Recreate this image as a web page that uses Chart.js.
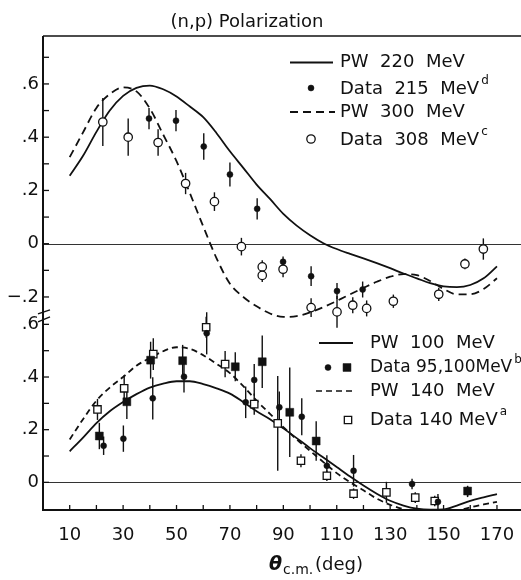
<!DOCTYPE html>
<html><head><meta charset="utf-8">
<script src="https://cdn.jsdelivr.net/npm/chart.js@4/dist/chart.umd.min.js"></script>
<style>
html,body{margin:0;padding:0;background:#fff;overflow:hidden;}
#wrap{position:relative;width:521px;height:580px;}
</style></head><body>
<div id="wrap"><canvas id="c" width="521" height="580"></canvas></div>
<script>
// ---------- data ----------
const xTickLabels = [10, 30, 50, 70, 90, 110, 130, 150, 170];
const xTickMarks = [10, 20, 30, 40, 50, 60, 70, 80, 90, 100, 110, 120, 130, 140, 150, 160, 170];
const yTopTickLabels = [0.6, 0.4, 0.2, 0, -0.2];
const yTopTickMarks = [0.7, 0.6, 0.5, 0.4, 0.3, 0.2, 0.1, 0, -0.1, -0.2];
const yBotTickLabels = [0.6, 0.4, 0.2, 0];
const yBotTickMarks = [0.6, 0.5, 0.4, 0.3, 0.2, 0.1, 0];

// phase-shift (PW) curves, read every 5 degrees
const pwAngles = [10,15,20,25,30,35,40,45,50,55,60,65,70,75,80,85,90,95,100,105,110,115,120,125,130,135,140,145,150,155,160,165,170];
const pw220 = [0.255,0.33,0.42,0.50,0.555,0.585,0.594,0.58,0.553,0.515,0.475,0.415,0.347,0.285,0.222,0.168,0.112,0.068,0.032,0.002,-0.02,-0.038,-0.055,-0.073,-0.092,-0.112,-0.13,-0.148,-0.16,-0.163,-0.155,-0.13,-0.085];
const pw300 = [0.325,0.418,0.51,0.562,0.587,0.572,0.508,0.41,0.31,0.19,0.065,-0.055,-0.15,-0.2,-0.235,-0.262,-0.275,-0.272,-0.258,-0.238,-0.215,-0.19,-0.166,-0.143,-0.124,-0.114,-0.118,-0.14,-0.17,-0.19,-0.19,-0.17,-0.13];
const pw100 = [0.118,0.17,0.225,0.27,0.305,0.335,0.36,0.375,0.384,0.384,0.373,0.357,0.337,0.305,0.27,0.24,0.205,0.168,0.13,0.094,0.058,0.022,-0.012,-0.043,-0.07,-0.088,-0.1,-0.104,-0.103,-0.088,-0.07,-0.057,-0.045];
const pw140 = [0.163,0.24,0.31,0.36,0.40,0.443,0.472,0.498,0.513,0.507,0.483,0.45,0.415,0.365,0.31,0.26,0.21,0.163,0.12,0.077,0.035,0.0,-0.03,-0.062,-0.085,-0.102,-0.115,-0.125,-0.128,-0.11,-0.095,-0.084,-0.074];

// measured data
const d215Ang = [39.7,49.8,60.2,70.0,80.2,89.9,100.4,110.1,119.7];
const d215Pol = [0.47,0.462,0.365,0.26,0.131,-0.068,-0.122,-0.178,-0.172];
const d215Err = [0.04,0.04,0.05,0.045,0.04,0.02,0.037,0.03,0.03];

const d308Ang = [22.4,31.9,43.1,53.4,64.2,74.3,82.1,82.1,89.9,100.4,110.1,116.0,121.2,131.2,148.2,158.0,164.9];
const d308Pol = [0.457,0.40,0.38,0.226,0.158,-0.011,-0.087,-0.119,-0.096,-0.24,-0.256,-0.231,-0.243,-0.216,-0.19,-0.076,-0.02];
const d308Err = [0.09,0.07,0.05,0.04,0.035,0.033,0.025,0.025,0.03,0.035,0.06,0.03,0.03,0.025,0.025,0.02,0.04];

const d95Ang = [22.7,30.1,41.1,52.8,61.3,75.9,79.1,88.5,96.9,106.3,116.3,138.2,147.9,159.0];
const d95Pol = [0.139,0.166,0.319,0.401,0.566,0.304,0.389,0.285,0.249,0.063,0.044,-0.006,-0.074,-0.036];
const d95Err = [0.035,0.05,0.08,0.06,0.08,0.06,0.06,0.06,0.07,0.04,0.06,0.02,0.03,0.02];

const d100Ang = [21.1,31.4,40.3,52.3,72.0,82.1,92.4,102.3,159.0];
const d100Pol = [0.176,0.306,0.464,0.462,0.439,0.458,0.266,0.157,-0.033];
const d100Err = [0.05,0.065,0.07,0.06,0.055,0.1,0.17,0.075,0.02];

const d140Ang = [20.4,30.4,41.3,61.1,68.2,79.1,87.9,96.6,106.3,116.3,128.6,139.4,146.7];
const d140Pol = [0.277,0.357,0.487,0.589,0.449,0.297,0.224,0.082,0.025,-0.043,-0.038,-0.058,-0.071];
const d140Err = [0.04,0.05,0.06,0.04,0.05,0.04,0.18,0.025,0.02,0.02,0.04,0.02,0.02];

// ---------- helpers ----------
const pairs = (xs, ys) => xs.map((x, i) => ({x: x, y: ys[i]}));
const INK = '#111';
const FONT = '"DejaVu Sans", sans-serif';
const fmtPol = v => {
  const r = Math.round(v * 10);
  if (r === 0) return '0';
  return (r < 0 ? '\u2212' : '') + '.' + Math.abs(r);
};

const curve = (label, ys, axis, dash) => ({
  label, data: pairs(pwAngles, ys), yAxisID: axis, showLine: true,
  borderColor: INK, borderWidth: 1.8, borderDash: dash, pointRadius: 0,
  cubicInterpolationMode: 'monotone', fill: false, order: 2
});
const points = (label, xs, ys, err, axis, style, r, filled) => ({
  label, data: pairs(xs, ys), err: err, yAxisID: axis, showLine: false,
  pointStyle: style, pointRadius: r, pointHoverRadius: r,
  backgroundColor: filled ? INK : '#fff', borderColor: INK,
  borderWidth: filled ? 0.5 : 1.3, order: 1
});

const datasets = [
  points('Data 215 MeV', d215Ang, d215Pol, d215Err, 'y', 'circle', 3, true),
  points('Data 308 MeV', d308Ang, d308Pol, d308Err, 'y', 'circle', 4.2, false),
  points('Data 95 MeV', d95Ang, d95Pol, d95Err, 'y2', 'circle', 3, true),
  points('Data 100 MeV', d100Ang, d100Pol, d100Err, 'y2', 'rect', 5.6, true),
  points('Data 140 MeV', d140Ang, d140Pol, d140Err, 'y2', 'rect', 5.2, false),
  curve('PW 220 MeV', pw220, 'y', []),
  curve('PW 300 MeV', pw300, 'y', [8, 5]),
  curve('PW 100 MeV', pw100, 'y2', []),
  curve('PW 140 MeV', pw140, 'y2', [6, 4])
];

function seg(ctx, x1, y1, x2, y2) { ctx.beginPath(); ctx.moveTo(x1, y1); ctx.lineTo(x2, y2); ctx.stroke(); }

function marker(ctx, ds, x, y) {
  ctx.save();
  ctx.fillStyle = ds.backgroundColor; ctx.strokeStyle = ds.borderColor; ctx.lineWidth = ds.borderWidth;
  if (Chart.helpers && Chart.helpers.drawPoint) {
    Chart.helpers.drawPoint(ctx, {pointStyle: ds.pointStyle, radius: ds.pointRadius, rotation: 0, borderWidth: ds.borderWidth}, x, y);
  } else {
    ctx.beginPath(); ctx.arc(x, y, ds.pointRadius, 0, Math.PI * 2); ctx.fill(); ctx.stroke();
  }
  ctx.restore();
}

function textSup(ctx, str, sup, x, y, size) {
  ctx.font = (size || 18) + 'px ' + FONT; ctx.textAlign = 'left'; ctx.textBaseline = 'middle';
  ctx.fillText(str, x, y);
  if (sup) {
    const w = ctx.measureText(str).width;
    ctx.font = '12px ' + FONT;
    ctx.fillText(sup, x + w + 2, y - 8);
  }
}

const deco = {
  id: 'deco',
  beforeDatasetsDraw(chart) {
    const {ctx, chartArea: a, scales} = chart;
    ctx.save();
    ctx.strokeStyle = '#333'; ctx.lineWidth = 1;
    [scales.y, scales.y2].forEach(s => {
      const py = Math.round(s.getPixelForValue(0)) + 0.5;
      seg(ctx, a.left, py, a.right, py);
    });
    ctx.strokeStyle = INK; ctx.lineWidth = 1.4;
    chart.data.datasets.forEach(ds => {
      if (!ds.err) return;
      const ys = scales[ds.yAxisID];
      ds.data.forEach((p, j) => {
        const px = scales.x.getPixelForValue(p.x);
        seg(ctx, px, ys.getPixelForValue(p.y - ds.err[j]), px, ys.getPixelForValue(p.y + ds.err[j]));
      });
    });
    ctx.restore();
  },
  afterDraw(chart) {
    const {ctx, chartArea: a, scales} = chart;
    const ds = chart.data.datasets;
    ctx.save();
    ctx.strokeStyle = INK; ctx.fillStyle = INK;
    // frame
    ctx.lineWidth = 2;
    seg(ctx, a.left, a.top, a.left, a.bottom);
    seg(ctx, a.left - 1, a.bottom, a.right, a.bottom);
    ctx.lineWidth = 1.5;
    seg(ctx, a.left, a.top, a.right, a.top);
    // inward tick marks
    ctx.lineWidth = 1.3;
    xTickMarks.forEach(v => { const px = scales.x.getPixelForValue(v); seg(ctx, px, a.bottom, px, a.bottom - 5); });
    yTopTickMarks.forEach(v => { const py = scales.y.getPixelForValue(v); seg(ctx, a.left, py, a.left + 6, py); });
    yBotTickMarks.forEach(v => { const py = scales.y2.getPixelForValue(v); seg(ctx, a.left, py, a.left + 6, py); });
    // bottom-panel tick labels
    ctx.font = '18px ' + FONT; ctx.textAlign = 'right'; ctx.textBaseline = 'middle';
    yBotTickLabels.forEach(v => ctx.fillText(fmtPol(v), a.left - 4, scales.y2.getPixelForValue(v)));
    // axis break marks
    ctx.lineWidth = 1.4;
    const by = scales.y.getPixelForValue(-0.26);
    seg(ctx, a.left - 5, by + 1, a.left + 7, by - 3);
    seg(ctx, a.left - 5, by + 9, a.left + 7, by + 4);
    // title
    ctx.textAlign = 'center'; ctx.textBaseline = 'middle'; ctx.font = '18px ' + FONT;
    ctx.fillText('(n,p) Polarization', 247, 22);
    // x axis title
    ctx.textAlign = 'left';
    ctx.font = 'italic bold 19px ' + FONT; ctx.fillText('\u03B8', 269, 565);
    ctx.font = '14px ' + FONT; ctx.fillText('c.m.', 283, 570);
    ctx.font = '18px ' + FONT; ctx.fillText('(deg)', 315, 565);
    // top legend
    ctx.lineWidth = 1.8;
    seg(ctx, 290, 62.5, 333, 62.5);
    textSup(ctx, 'PW  220  MeV', '', 340, 62);
    marker(ctx, ds[0], 311, 88);
    textSup(ctx, 'Data  215  MeV', 'd', 340, 89);
    ctx.setLineDash([8, 5]); ctx.lineWidth = 1.8; seg(ctx, 290, 112, 335, 112); ctx.setLineDash([]);
    textSup(ctx, 'PW  300  MeV', '', 340, 112);
    marker(ctx, ds[1], 311, 139);
    textSup(ctx, 'Data  308  MeV', 'c', 340, 140);
    // bottom legend
    ctx.lineWidth = 1.8;
    seg(ctx, 319, 343, 353, 343);
    textSup(ctx, 'PW  100  MeV', '', 370, 343);
    marker(ctx, ds[2], 328, 367.5);
    marker(ctx, ds[3], 347, 367.5);
    textSup(ctx, 'Data 95,100MeV', 'b', 370, 368, 17);
    ctx.setLineDash([6, 4]); ctx.lineWidth = 1.6; seg(ctx, 316, 391, 356, 391); ctx.setLineDash([]);
    textSup(ctx, 'PW  140  MeV', '', 370, 391);
    marker(ctx, ds[4], 348, 420);
    textSup(ctx, 'Data 140 MeV', 'a', 370, 420);
    ctx.restore();
  }
};

new Chart(document.getElementById('c'), {
  type: 'scatter',
  data: {datasets},
  options: {
    responsive: false, animation: false, devicePixelRatio: 1,
    layout: {autoPadding: false, padding: {top: 36, left: 0, right: 0, bottom: 0}},
    plugins: {legend: {display: false}, tooltip: {enabled: false}, title: {display: false}},
    events: [],
    scales: {
      x: {
        type: 'linear', min: 0, max: 179, position: 'bottom',
        afterBuildTicks: s => { s.ticks = xTickLabels.map(v => ({value: v})); },
        afterFit: s => { s.height = 70; s.paddingLeft = 0; s.paddingRight = 0; },
        grid: {display: false, drawTicks: false}, border: {display: false},
        ticks: {
          autoSkip: false, maxRotation: 0, minRotation: 0, padding: 15, color: INK,
          font: {family: FONT, size: 18},
          callback: v => String(Math.round(v))
        }
      },
      y: {
        type: 'linear', min: -1.0, max: 0.78, position: 'left',
        afterBuildTicks: s => { s.ticks = yTopTickLabels.map(v => ({value: v})); },
        afterFit: s => { s.width = 43; s.paddingTop = 0; s.paddingBottom = 0; },
        grid: {display: false, drawTicks: false}, border: {display: false},
        ticks: {
          autoSkip: false, padding: 4, color: INK,
          font: {family: FONT, size: 18},
          callback: v => fmtPol(v)
        }
      },
      y2: {
        type: 'linear', min: -0.105, max: 1.695, position: 'left', display: false
      }
    }
  },
  plugins: [deco]
});
</script>
</body></html>
